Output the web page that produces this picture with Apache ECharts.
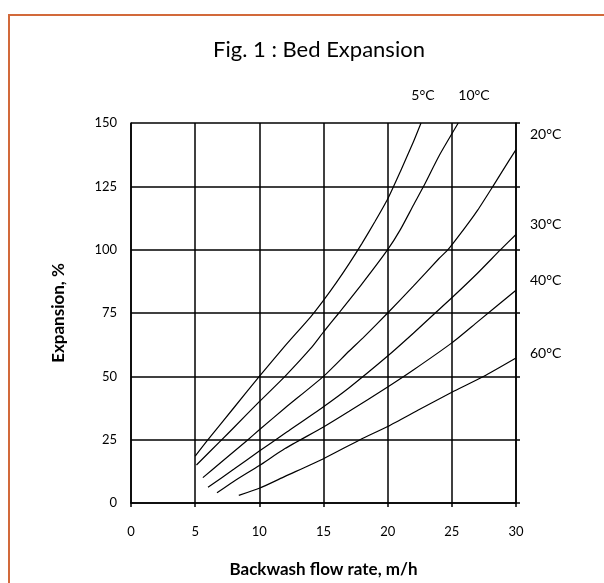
<!DOCTYPE html>
<html>
<head>
<meta charset="utf-8">
<script src="https://cdn.jsdelivr.net/npm/echarts@6/dist/echarts.min.js"></script>
<style>
html,body{margin:0;padding:0;background:#fff;}
#chart{width:604px;height:583px;}
</style>
</head>
<body>
<div id="chart"></div>
<script>
// curves: [flow rate m/h, expansion %]
var c5=[[5,18.5],[6,25],[8,37.5],[10,50],[12,62],[14,73.5],[15,80],[16,87],[17,94.5],[18,102.5],[19,111],[20,120],[21,131],[22,142.5],[22.6,150]]
var c10=[[5.1,15],[7,24.6],[8,29.7],[10,40],[12,50],[14,61],[15,67.5],[16.2,75],[18,86.5],[20,100],[21,108],[22,117.5],[22.8,125],[24,137],[25.5,150]]
var c20=[[5.6,10],[7,16],[9,24.5],[10,28.9],[12,37.5],[15,50],[17,60],[18.1,65.3],[20,75],[22,85.6],[24,96.5],[24.7,100],[26,108.5],[27,115.5],[28.2,125],[29,131.5],[30,139.5]]
var c30=[[6,6.2],[8,13.3],[10,20.5],[12,27.5],[15,38],[17,45.5],[20,58],[22,67],[23.6,74.5],[25,81],[27,90.7],[28.8,100],[30,106]]
var c40=[[6.7,4],[8,8.5],[10,14.8],[12,21.5],[15,30],[17,36.2],[20,45.8],[22,52.5],[25,63.2],[27,71.5],[30,84]]
var c60=[[8.4,3],[10,5.8],[12,10.5],[15,17.5],[17.85,25],[20,30.2],[22.5,37],[25,43.7],[27.5,50],[30,57.2]]
var curves=[c5,c10,c20,c30,c40,c60]
var temps=['5°C','10°C','20°C','30°C','40°C','60°C']

var font='Lato'
var mychart=echarts.init(document.getElementById('chart'));

var series=[]
for(var i=0;i<curves.length;i++){
	series.push({
		name:temps[i],
		type:'line',
		data:curves[i],
		showSymbol:false,
		smooth:0.2,
		lineStyle:{color:'#000',width:1.2}
	})
}

// temperature tags, placed by hand like the original
var tags=[
	{t:temps[0],x:423,y:95,a:'center'},
	{t:temps[1],x:474,y:95,a:'center'},
	{t:temps[2],x:530,y:134,a:'left'},
	{t:temps[3],x:530,y:224,a:'left'},
	{t:temps[4],x:530,y:280,a:'left'},
	{t:temps[5],x:530,y:353,a:'left'}
]
var graphic=[{
	type:'rect',
	shape:{x:9,y:15,width:800,height:800},
	style:{fill:'none',stroke:'#d2693a',lineWidth:2},
	silent:true
}]
for(var j=0;j<tags.length;j++){
	graphic.push({
		type:'text',
		x:tags[j].x,y:tags[j].y,
		style:{text:tags[j].t,fill:'#000',font:'14px '+font,textAlign:tags[j].a,textVerticalAlign:'middle'}
	})
}

var option={
	backgroundColor:'#fff',
	animation:false,
	title:{
		text:'Fig. 1 : Bed Expansion',
		left:314,
		top:34,
		textAlign:'center',
		textStyle:{fontFamily:font,fontSize:22,fontWeight:'normal',color:'#000'}
	},
	grid:{left:131,right:88,top:123,bottom:80},
	xAxis:{
		type:'value',
		min:0,max:30,interval:5,
		name:'Backwash flow rate, m/h',
		nameLocation:'middle',
		nameGap:58,
		nameTextStyle:{fontFamily:font,fontSize:17,fontWeight:'bold',color:'#000'},
		axisLine:{lineStyle:{color:'#000',width:1.5}},
		axisTick:{show:true,length:4,lineStyle:{color:'#000',width:1.5}},
		axisLabel:{margin:22,fontFamily:font,fontSize:13,color:'#000'},
		splitLine:{show:true,lineStyle:{color:'#000',width:1.5}}
	},
	yAxis:[{
		type:'value',
		position:'left',
		min:0,max:150,interval:25,
		name:'Expansion, %',
		nameLocation:'middle',
		nameGap:64,
		nameTextStyle:{fontFamily:font,fontSize:17,fontWeight:'bold',color:'#000'},
		axisLine:{show:true,lineStyle:{color:'#000',width:1.5}},
		axisTick:{show:false},
		axisLabel:{margin:14,fontFamily:font,fontSize:13,color:'#000'},
		splitLine:{show:true,lineStyle:{color:'#000',width:1.5}}
	},{
		type:'value',
		position:'right',
		min:0,max:150,interval:25,
		axisLine:{show:true,lineStyle:{color:'#000',width:1.5}},
		axisTick:{show:true,length:4,lineStyle:{color:'#000',width:1.5}},
		axisLabel:{show:false},
		splitLine:{show:false}
	}],
	graphic:graphic,
	series:series
};
mychart.setOption(option);
</script>
</body>
</html>
